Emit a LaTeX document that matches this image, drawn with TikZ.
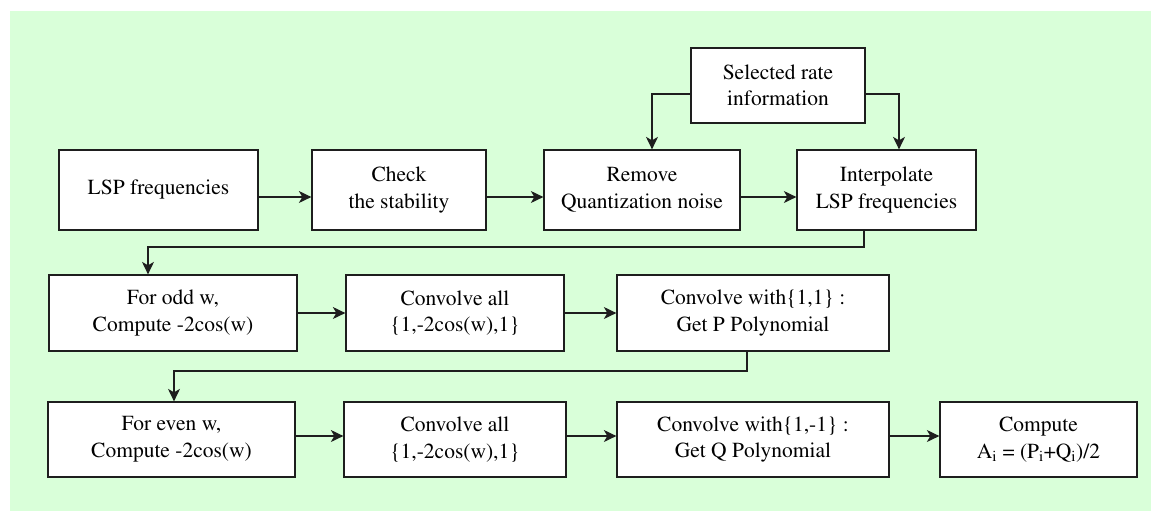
\documentclass[tikz,border=0pt]{standalone}
\usepackage[T1]{fontenc}
\usepackage{times}
\usetikzlibrary{arrows.meta,calc}
\definecolor{bgreen}{RGB}{217,255,217}
\definecolor{edge}{RGB}{30,30,30}
\tikzset{
  stagebox/.style={draw=edge, line width=1.3pt, fill=white, align=center,
    inner sep=2pt, font=\rmfamily\fontsize{21.5}{26.5}\selectfont},
  flow/.style={line width=1.3pt, draw=edge,
    -{Stealth[length=12.5pt, width=12pt, inset=3.5pt]}},
}
\begin{document}
\begin{tikzpicture}[x=1pt, y=-1pt]
\useasboundingbox (0,0) rectangle (1151,512);
\fill[bgreen] (10,11) rectangle (1151,511);

% top row
\node[stagebox, minimum width=174pt, minimum height=75pt] (sel) at (778,85.5) {Selected rate\\information};
\node[stagebox, minimum width=199pt, minimum height=80pt] (lsp) at (158.5,190) {LSP frequencies};
\node[stagebox, minimum width=174pt, minimum height=80pt] (chk) at (399,190) {Check\\the stability};
\node[stagebox, minimum width=196pt, minimum height=80pt] (rem) at (642,190) {Remove\\Quantization noise};
\node[stagebox, minimum width=179pt, minimum height=80pt] (itp) at (886.5,190) {Interpolate\\LSP frequencies};

% odd branch
\node[stagebox, minimum width=248pt, minimum height=76pt] (odd) at (173,313) {For odd w,\\Compute -2cos(w)};
\node[stagebox, minimum width=218pt, minimum height=76pt] (cv1) at (455,313) {Convolve all\\\{1,-2cos(w),1\}};
\node[stagebox, minimum width=272pt, minimum height=76pt] (cvp) at (753,313) {Convolve with\{1,1\} :\\Get P Polynomial};

% even branch
\node[stagebox, minimum width=247pt, minimum height=75pt] (even) at (171.5,439.5) {For even w,\\Compute -2cos(w)};
\node[stagebox, minimum width=222pt, minimum height=75pt] (cv2) at (455,439.5) {Convolve all\\\{1,-2cos(w),1\}};
\node[stagebox, minimum width=272pt, minimum height=75pt] (cvq) at (753,439.5) {Convolve with\{1,-1\} :\\Get Q Polynomial};
\node[stagebox, minimum width=197pt, minimum height=75pt] (cmp) at (1038.5,439.5) {Compute\\A\textsubscript{i} = (P\textsubscript{i}+Q\textsubscript{i})/2};

% routing levels for the return lines
\coordinate (r1) at (0,247);
\coordinate (r2) at (0,371);

% connectors
\draw[flow] ([yshift=-7pt]lsp.east) -- ([yshift=-7pt]chk.west);
\draw[flow] ([yshift=-7pt]chk.east) -- ([yshift=-7pt]rem.west);
\draw[flow] ([yshift=-7pt]rem.east) -- ([yshift=-7pt]itp.west);
\draw[flow] ([yshift=-8.5pt]sel.west) -| ([xshift=10pt]rem.north);
\draw[flow] ([yshift=-8.5pt]sel.east) -| ([xshift=12.5pt]itp.north);
\draw[flow] ([xshift=-22.5pt]itp.south) -- ([xshift=-22.5pt]itp.south |- r1) -| ([xshift=-25pt]odd.north);

\draw[flow] (odd.east) -- (cv1.west);
\draw[flow] (cv1.east) -- (cvp.west);
\draw[flow] ([xshift=-6pt]cvp.south) -- ([xshift=-6pt]cvp.south |- r2) -| ([xshift=2.5pt]even.north);

\draw[flow] ([yshift=3.5pt]even.east) -- ([yshift=3.5pt]cv2.west);
\draw[flow] ([yshift=3.5pt]cv2.east) -- ([yshift=3.5pt]cvq.west);
\draw[flow] ([yshift=3.5pt]cvq.east) -- ([yshift=3.5pt]cmp.west);
\end{tikzpicture}
\end{document}
